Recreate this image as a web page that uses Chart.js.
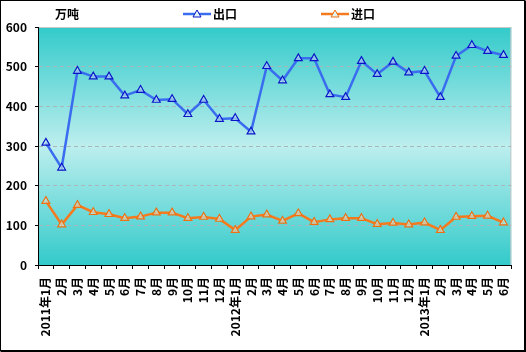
<!DOCTYPE html>
<html lang="zh">
<head>
<meta charset="UTF-8" />
<title>出口 进口</title>
<style>
  body { margin: 0; padding: 0; background: #fff; }
  #wrap { width: 526px; height: 352px; position: relative; }
</style>
<script src="https://cdn.jsdelivr.net/npm/chart.js"></script>
</head>
<body>
<div id="wrap"><canvas id="chart" width="526" height="352"></canvas></div>
<script>
  const months = [
    "2011年1月", "2月", "3月", "4月", "5月", "6月", "7月", "8月", "9月", "10月", "11月", "12月",
    "2012年1月", "2月", "3月", "4月", "5月", "6月", "7月", "8月", "9月", "10月", "11月", "12月",
    "2013年1月", "2月", "3月", "4月", "5月", "6月"
  ];
  const exportVals = [308, 245, 489, 475, 475, 427, 441, 416, 418, 380, 416, 368,
                      370, 336, 501, 465, 521, 521, 430, 423, 514, 481, 512, 485,
                      489, 423, 527, 554, 539, 529];
  const importVals = [161, 102, 151, 133, 128, 118, 122, 132, 132, 118, 121, 116,
                      88, 122, 127, 111, 130, 108, 115, 118, 118, 103, 106, 102,
                      107, 88, 121, 123, 124, 107];
  const yTicks = [0, 100, 200, 300, 400, 500, 600];
  const unitLabel = "万吨";

  const FONT = "'Noto Sans CJK SC', 'DejaVu Sans', sans-serif";

  // background gradient in the plot area, outer frame and the legend row
  const decor = {
    id: "decor",
    beforeDraw(chart) {
      const { ctx, chartArea: a } = chart;
      ctx.save();
      const g = ctx.createLinearGradient(0, a.top, 0, a.bottom);
      g.addColorStop(0, "#33caca");
      g.addColorStop(0.5, "#bdeeee");
      g.addColorStop(1, "#33caca");
      ctx.fillStyle = g;
      ctx.fillRect(a.left, a.top, a.right - a.left, a.bottom - a.top);
      ctx.strokeStyle = "#c8c8c8";
      ctx.lineWidth = 1;
      ctx.beginPath();
      ctx.moveTo(a.left, a.top + 0.5);
      ctx.lineTo(a.right - 0.5, a.top + 0.5);
      ctx.lineTo(a.right - 0.5, a.bottom);
      ctx.stroke();
      ctx.restore();
    },
    afterDraw(chart) {
      const { ctx, width, height } = chart;
      ctx.save();
      ctx.strokeStyle = "#000";
      ctx.lineWidth = 1;
      ctx.strokeRect(0.5, 0.5, width - 1.5, height - 1.5);
      ctx.lineWidth = 2;
      ctx.beginPath();
      ctx.moveTo(width - 1, 1);
      ctx.lineTo(width - 1, height - 1);
      ctx.lineTo(1, height - 1);
      ctx.stroke();

      ctx.font = "bold 12px " + FONT;
      ctx.fillStyle = "#000";
      ctx.textBaseline = "middle";
      ctx.fillText(unitLabel, 55, 14);

      chart.data.datasets.forEach((ds, i) => {
        const x0 = [183, 321][i];
        const y = 14;
        ctx.strokeStyle = ds.borderColor;
        ctx.lineWidth = 2.5;
        ctx.beginPath();
        ctx.moveTo(x0, y);
        ctx.lineTo(x0 + 28, y);
        ctx.stroke();
        ctx.lineWidth = 1;
        ctx.strokeStyle = ds.pointBorderColor;
        ctx.fillStyle = "#e0f4f4";
        ctx.beginPath();
        ctx.moveTo(x0 + 14, y - 4);
        ctx.lineTo(x0 + 18, y + 3);
        ctx.lineTo(x0 + 10, y + 3);
        ctx.closePath();
        ctx.fill();
        ctx.stroke();
        ctx.fillStyle = "#000";
        ctx.fillText(ds.label, x0 + 30, y);
      });
      ctx.restore();
    }
  };

  new Chart(document.getElementById("chart"), {
    type: "line",
    data: {
      labels: months,
      datasets: [
        {
          label: "出口",
          data: exportVals,
          borderColor: "#3a6cf0",
          borderWidth: 2.5,
          pointStyle: "triangle",
          pointRadius: 4.5,
          pointBorderColor: "#0a14c8",
          pointBorderWidth: 1.2,
          pointBackgroundColor: "rgba(200,240,240,0.6)",
          tension: 0
        },
        {
          label: "进口",
          data: importVals,
          borderColor: "#f57a1e",
          borderWidth: 2.5,
          pointStyle: "triangle",
          pointRadius: 4.5,
          pointBorderColor: "#f07010",
          pointBorderWidth: 1.2,
          pointBackgroundColor: "rgba(200,240,240,0.6)",
          tension: 0
        }
      ]
    },
    options: {
      responsive: false,
      animation: false,
      devicePixelRatio: 1,
      layout: { padding: { top: 27, right: 11, left: 0, bottom: 0 } },
      plugins: { legend: { display: false }, tooltip: { enabled: false } },
      scales: {
        x: {
          offset: true,
          grid: {
            offset: true,
            drawOnChartArea: false,
            color: "#000",
            tickLength: 4
          },
          border: { color: "#000", width: 1 },
          ticks: {
            autoSkip: false,
            minRotation: 90,
            maxRotation: 90,
            padding: 8,
            color: "#000",
            font: { family: FONT, size: 12, weight: "bold" }
          },
          afterFit(scale) { scale.height = 87; }
        },
        y: {
          min: 0,
          max: 600,
          afterBuildTicks(scale) { scale.ticks = yTicks.map(v => ({ value: v })); },
          grid: {
            color: (c) => (c.tick.value === 0 || c.tick.value === 600) ? "rgba(0,0,0,0)" : "#a8b8b8",
            tickColor: "#000",
            tickLength: 3
          },
          border: { color: "#000", width: 1, dash: [4, 3] },
          ticks: {
            padding: 8,
            color: "#000",
            font: { family: FONT, size: 12, weight: "bold" }
          },
          afterFit(scale) { scale.width = 38; }
        }
      }
    },
    plugins: [decor]
  });
</script>
</body>
</html>
